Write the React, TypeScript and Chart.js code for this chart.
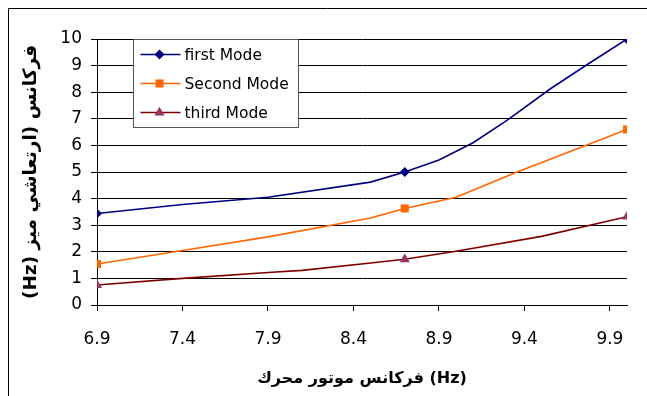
import { useEffect, useRef } from "react";
import { Chart, registerables } from "chart.js";

Chart.register(...registerables);

// Motor frequency (Hz) and the three natural-frequency curves
const markerX = [6.9, 8.7, 10];
const firstModeX = [6.9, 7.4, 7.9, 8.5, 8.7, 8.9, 9.1, 9.3, 9.55, 9.77, 10];
const firstModeY = [3.44, 3.78, 4.05, 4.62, 5.0, 5.45, 6.1, 6.95, 8.12, 9.05, 10];
const secondModeX = [6.9, 7.4, 7.9, 8.5, 8.7, 9.0, 9.35, 9.75, 10];
const secondModeY = [1.54, 2.05, 2.56, 3.27, 3.63, 4.05, 4.98, 5.98, 6.6];
const thirdModeX = [6.9, 7.4, 7.9, 8.1, 8.5, 8.7, 9.0, 9.5, 10];
const thirdModeY = [0.75, 1.0, 1.22, 1.3, 1.58, 1.72, 2.02, 2.58, 3.32];
const xTickValues = [6.9, 7.4, 7.9, 8.4, 8.9, 9.4, 9.9, 10];
const seriesNames = ["first Mode", "Second Mode", "third Mode"];

const FONT = "'DejaVu Sans', sans-serif";

const toPoints = (xs: number[], ys: number[]) => xs.map((x, i) => ({ x, y: ys[i] }));
const markerRadii = (xs: number[], r: number) =>
  xs.map((x) => (markerX.some((m) => Math.abs(m - x) < 1e-9) ? r : 0));

// Page frame plus white background
const framePlugin = {
  id: "frame",
  beforeDraw(chart: any) {
    const { ctx, width, height } = chart;
    ctx.save();
    ctx.fillStyle = "#ffffff";
    ctx.fillRect(0, 0, width, height);
    ctx.strokeStyle = "#000000";
    ctx.lineWidth = 1;
    ctx.beginPath();
    ctx.moveTo(8.5, height);
    ctx.lineTo(8.5, 8.5);
    ctx.lineTo(width, 8.5);
    ctx.stroke();
    ctx.restore();
  },
};

function drawMarker(ctx: CanvasRenderingContext2D, style: string, x: number, y: number, r: number) {
  ctx.beginPath();
  if (style === "rectRot") {
    ctx.moveTo(x, y - r);
    ctx.lineTo(x + r, y);
    ctx.lineTo(x, y + r);
    ctx.lineTo(x - r, y);
  } else if (style === "rect") {
    const s = r * Math.SQRT1_2;
    ctx.rect(x - s, y - s, 2 * s, 2 * s);
  } else {
    ctx.moveTo(x, y - r);
    ctx.lineTo(x + r * 0.866, y + r * 0.5);
    ctx.lineTo(x - r * 0.866, y + r * 0.5);
  }
  ctx.closePath();
  ctx.fill();
}

// Boxed legend sitting inside the plot area
const boxLegendPlugin = {
  id: "boxLegend",
  afterDraw(chart: any) {
    const { ctx } = chart;
    const left = 133.5;
    const top = 39.5;
    const w = 165;
    const h = 88;
    ctx.save();
    ctx.fillStyle = "#ffffff";
    ctx.fillRect(left, top, w, h);
    ctx.strokeStyle = "#555555";
    ctx.lineWidth = 1;
    ctx.strokeRect(left, top, w, h);
    chart.data.datasets.forEach((ds: any, i: number) => {
      const y = top + 15 + i * 29;
      ctx.strokeStyle = ds.borderColor;
      ctx.lineWidth = ds.borderWidth;
      ctx.beginPath();
      ctx.moveTo(left + 7, y);
      ctx.lineTo(left + 47, y);
      ctx.stroke();
      ctx.fillStyle = ds.pointBackgroundColor;
      drawMarker(ctx, ds.pointStyle, left + 26, y, ds.legendRadius);
      ctx.fillStyle = "#000000";
      ctx.font = `15.5px ${FONT}`;
      ctx.textBaseline = "middle";
      ctx.textAlign = "left";
      ctx.fillText(ds.label, left + 51, y + 1);
    });
    ctx.restore();
  },
};

export default function App() {
  const canvasRef = useRef<HTMLCanvasElement | null>(null);

  useEffect(() => {
    document.body.style.margin = "0";
    const canvas = canvasRef.current;
    if (!canvas) return;

    const chart = new Chart(canvas, {
      type: "line",
      data: {
        datasets: [
          {
            label: seriesNames[0],
            data: toPoints(firstModeX, firstModeY),
            borderColor: "#000080",
            borderWidth: 1.6,
            pointStyle: "rectRot",
            pointRadius: markerRadii(firstModeX, 5),
            pointBackgroundColor: "#000080",
            pointBorderColor: "#000080",
            pointBorderWidth: 0,
            legendRadius: 5,
            tension: 0,
          } as any,
          {
            label: seriesNames[1],
            data: toPoints(secondModeX, secondModeY),
            borderColor: "#FF6600",
            borderWidth: 1.6,
            pointStyle: "rect",
            pointRadius: markerRadii(secondModeX, 5.7),
            pointBackgroundColor: "#FF6600",
            pointBorderColor: "#FF6600",
            pointBorderWidth: 0,
            legendRadius: 5.7,
            tension: 0,
          } as any,
          {
            label: seriesNames[2],
            data: toPoints(thirdModeX, thirdModeY),
            borderColor: "#800000",
            borderWidth: 1.6,
            pointStyle: "triangle",
            pointRadius: markerRadii(thirdModeX, 5.8),
            pointBackgroundColor: "#993366",
            pointBorderColor: "#993366",
            pointBorderWidth: 0,
            legendRadius: 5.8,
            tension: 0,
          } as any,
        ],
      },
      options: {
        animation: false,
        responsive: false,
        maintainAspectRatio: false,
        layout: { padding: { left: 0, top: 39, right: 20, bottom: 0 } },
        plugins: {
          legend: { display: false },
          tooltip: { enabled: false },
          title: { display: false },
        },
        elements: { point: { hoverRadius: 0 } },
        scales: {
          x: {
            type: "linear",
            min: 6.9,
            max: 10,
            afterBuildTicks: (scale: any) => {
              scale.ticks = xTickValues.map((v) => ({ value: v }));
            },
            afterFit: (scale: any) => {
              scale.height = 91;
            },
            border: { display: true, color: "#000000", width: 1 },
            grid: {
              drawOnChartArea: false,
              drawTicks: true,
              tickLength: 6,
              color: (c: any) => (c.tick && c.tick.value >= 10 ? "rgba(0,0,0,0)" : "#000000"),
            },
            ticks: {
              autoSkip: false,
              maxRotation: 0,
              padding: 18,
              color: "#000000",
              font: { family: FONT, size: 17 },
              callback: (v: any) => (Number(v) >= 10 ? "" : Number(v).toFixed(1)),
            },
            title: {
              display: true,
              text: "فركانس موتور محرك (Hz)",
              color: "#000000",
              font: { family: FONT, size: 16, weight: "bold" },
              padding: { top: 8, bottom: 8 },
            },
          },
          y: {
            min: 0,
            max: 10,
            afterFit: (scale: any) => {
              scale.width = 97;
            },
            border: { display: true, color: "#000000", width: 1 },
            grid: {
              color: "#000000",
              lineWidth: 1,
              drawTicks: true,
              tickLength: 6,
            },
            ticks: {
              stepSize: 1,
              padding: 9,
              color: "#000000",
              font: { family: FONT, size: 17 },
            },
            title: {
              display: true,
              text: "(Hz) فركانس (ارتعاشي ميز",
              color: "#000000",
              font: { family: FONT, size: 18.5, weight: "bold" },
              padding: { top: 20, bottom: 20 },
            },
          },
        },
      },
      plugins: [framePlugin, boxLegendPlugin],
    });

    return () => chart.destroy();
  }, []);

  return (
    <div style={{ width: 647, height: 396 }}>
      <canvas ref={canvasRef} width={647} height={396} style={{ display: "block" }} />
    </div>
  );
}
